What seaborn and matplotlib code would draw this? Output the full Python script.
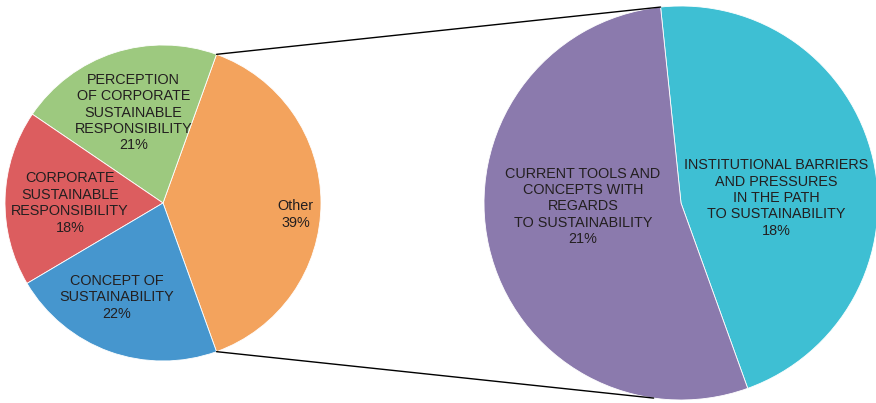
import numpy as np
import matplotlib.pyplot as plt
import seaborn as sns

sns.set_theme(style="white")
plt.rcParams['font.family'] = ['Liberation Sans', 'DejaVu Sans']

# data
main_labels = ['Other', 'PERCEPTION\nOF CORPORATE\nSUSTAINABLE\nRESPONSIBILITY',
               'CORPORATE\nSUSTAINABLE\nRESPONSIBILITY', 'CONCEPT OF\nSUSTAINABILITY']
main_values = [39, 21, 18, 22]
main_colors = ['#f3a35d', '#9dc97f', '#dc5d5f', '#4696ce']

sub_labels = ['INSTITUTIONAL BARRIERS\nAND PRESSURES\nIN THE PATH\nTO SUSTAINABILITY',
              'CURRENT TOOLS AND\nCONCEPTS WITH\nREGARDS\nTO SUSTAINABILITY']
sub_values = [18, 21]
sub_colors = ['#3ebfd3', '#8b7aad']

# layout (pixel units, y up)
W, H = 876, 403
c1, r1 = (163, 200), 158
c2, r2 = (681, 200), 197
start = -0.39 * 360 / 2

fig = plt.figure(figsize=(W / 100, H / 100), dpi=100)
ax = fig.add_axes([0, 0, 1, 1])

wp = dict(edgecolor='white', linewidth=0.6)
ax.pie(main_values, center=c1, radius=r1, startangle=start, counterclock=True,
       colors=main_colors, wedgeprops=wp, frame=True)
ax.pie(sub_values, center=c2, radius=r2, startangle=start, counterclock=True,
       colors=sub_colors, wedgeprops=wp, frame=True)
ax.set_xlim(0, W)
ax.set_ylim(0, H)
ax.set_aspect('equal')
ax.axis('off')

def pt(c, r, ang):
    a = np.deg2rad(ang)
    return c[0] + r * np.cos(a), c[1] + r * np.sin(a)

# label placement (distance, angle) relative to each pie centre
main_pos = [(133, -5), (95, 108), (93, 180), (105, 244)]
sub_pos = [(95, 3), (98, 182)]
txt = dict(ha='center', va='center', fontsize=10.4, color='#231f20', linespacing=1.22)
for lab, v, (d, a) in zip(main_labels, main_values, main_pos):
    x, y = pt(c1, d, a)
    ax.text(x, y, f'{lab}\n{v}%', **txt)
for lab, v, (d, a) in zip(sub_labels, sub_values, sub_pos):
    x, y = pt(c2, d, a)
    ax.text(x, y, f'{lab}\n{v}%', **txt)

# connector lines
top_end = start + main_values[0] / 100 * 360
x0, y0 = pt(c1, r1, top_end)
x1, y1 = pt(c2, r2, start + sub_values[0] / sum(sub_values) * 360)
ax.plot([x0, x1], [y0, y1], color='black', linewidth=1)
x0, y0 = pt(c1, r1, start)
x1, y1 = pt(c2, r2, -98)
ax.plot([x0, x1], [y0, y1], color='black', linewidth=1)

fig.savefig('out.png', dpi=100)
